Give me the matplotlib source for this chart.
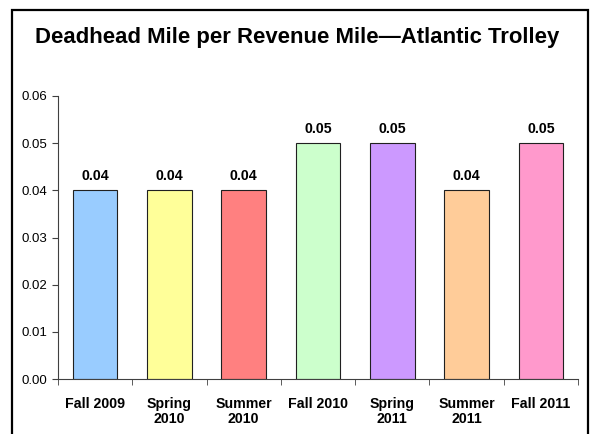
import numpy as np
import matplotlib.pyplot as plt
from matplotlib.patches import Rectangle

# Donnees
categories = ['Fall 2009', 'Spring\n2010', 'Summer\n2010', 'Fall 2010',
              'Spring\n2011', 'Summer\n2011', 'Fall 2011']
values = [0.04, 0.04, 0.04, 0.05, 0.05, 0.04, 0.05]
colors = ['#99CCFF', '#FFFF99', '#FF8080', '#CCFFCC', '#CC99FF', '#FFCC99', '#FF99CC']
yticks = [0.00, 0.01, 0.02, 0.03, 0.04, 0.05, 0.06]

plt.rcParams['font.family'] = ['Liberation Sans', 'DejaVu Sans']

fig = plt.figure(figsize=(5.91, 4.34), dpi=100)
ax = fig.add_axes([58/591, 1 - 379/434, 520/591, 283/434])

x = np.arange(len(categories))
ax.bar(x, values, width=0.6, color=colors, edgecolor='#202020', linewidth=0.8)

for xi, v in zip(x, values):
    ax.annotate('%.2f' % v, (xi, v), xytext=(0, 5), textcoords='offset points',
                ha='center', va='bottom', fontsize=10.2, fontweight='bold')

ax.set_xlim(-0.5, len(categories) - 0.5)
ax.set_ylim(0, 0.06)
ax.set_yticks(yticks)
ax.set_yticklabels(['%.2f' % t for t in yticks], fontsize=9.5)
ax.set_xticks(x)
ax.set_xticklabels(categories, fontsize=10.2, fontweight='bold', linespacing=1.05)
ax.set_xticks(np.arange(len(categories) + 1) - 0.5, minor=True)
ax.tick_params(axis='x', which='major', length=0, pad=13)
ax.tick_params(axis='x', which='minor', length=4, direction='out', color='#404040')
ax.tick_params(axis='y', length=4, direction='out', color='#404040', pad=4)

for s in ['top', 'right']:
    ax.spines[s].set_visible(False)
for s in ['left', 'bottom']:
    ax.spines[s].set_color('#404040')
    ax.spines[s].set_linewidth(0.8)

# Titre et cadre
fig.text(297/591, 1 - 38/434, 'Deadhead Mile per Revenue Mile\u2014Atlantic Trolley',
         ha='center', va='center', fontsize=15.9, fontweight='bold')
fig.patches.append(Rectangle((12/591, -0.05), 576/591, 1.05 - 10/434,
                             transform=fig.transFigure, fill=False,
                             edgecolor='black', linewidth=1.6))

fig.savefig('out.png', dpi=100)
